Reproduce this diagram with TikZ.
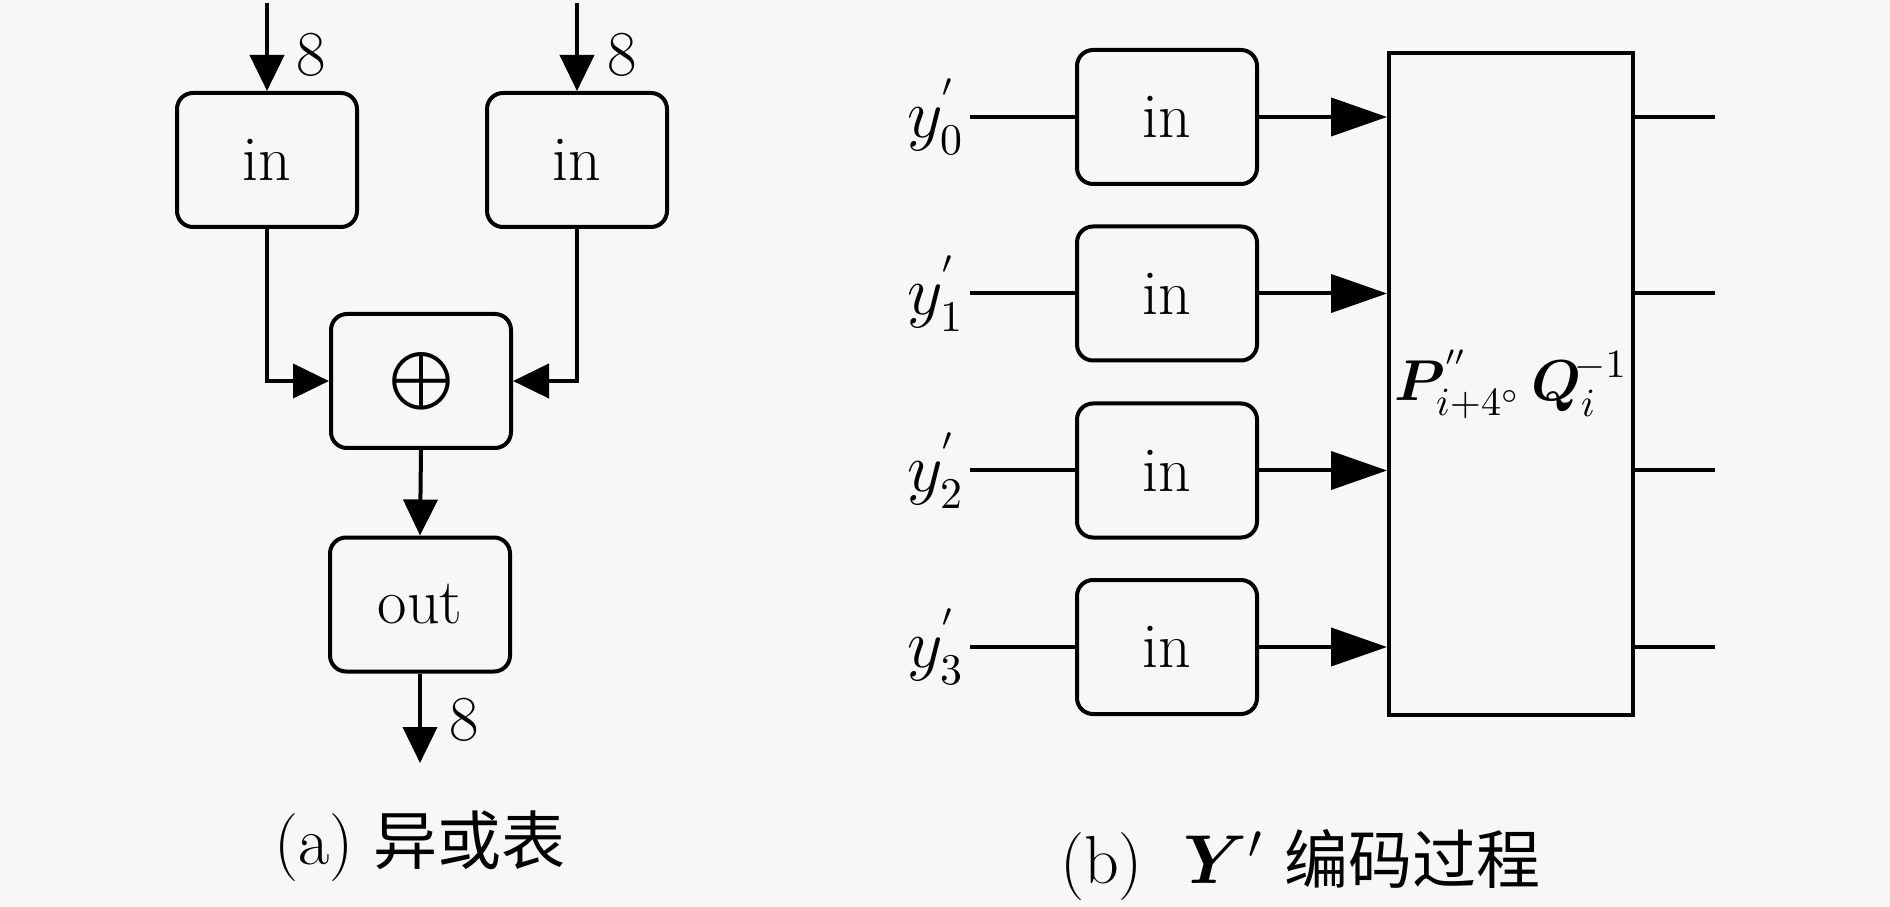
\documentclass[tikz,border=0pt]{standalone}
\usepackage{fontspec}
\usepackage{amsmath,bm}
\newfontfamily\cjk{Noto Sans CJK SC}
\usetikzlibrary{arrows.meta}
\begin{document}
\begin{tikzpicture}[x=0.25pt,y=-0.25pt,line width=1pt,
  txt/.style={font=\fontsize{16}{19}\selectfont},
  lbl/.style={txt,inner sep=1pt},
  captxt/.style={font=\fontsize{17}{20}\selectfont,inner sep=1pt},
  wbox/.style={txt,draw,rounded corners=4pt,inner sep=0pt,minimum width=45pt,minimum height=33.5pt},
  bigbox/.style={draw,inner sep=0pt,minimum width=61pt,minimum height=165.5pt,font=\fontsize{14.5}{17}\selectfont},
  arA/.style={-{Triangle[length=9pt,width=8.5pt]}},
  arB/.style={-{Triangle[length=14pt,width=9.5pt]}}]
\fill[black!3] (0,0) rectangle (1890,907);
\useasboundingbox (0,0) rectangle (1890,907);
% (a)
\node[wbox] (in1) at (267,160) {in};
\node[wbox] (in2) at (577,160) {in};
\node[wbox] (xor) at (421,381) {\fontsize{14}{16}\selectfont$\bigoplus$};
\node[wbox] (out) at (420,604.5) {out};
\coordinate (t1) at (267,3);
\coordinate (t2) at (577,3);
\coordinate (b1) at (420,763);
\draw[arA] (t1) -- (in1.north);
\draw[arA] (t2) -- (in2.north);
\draw[arA] (in1.south) |- (xor.west);
\draw[arA] (in2.south) |- (xor.east);
\draw[arA] (xor.south) -- (out.north);
\draw[arA] (out.south) -- (b1);
\node[lbl] (n1) at (311,55) {8};
\node[lbl] (n2) at (622,55) {8};
\node[lbl] (n3) at (464,720) {8};
\node[captxt] (capa) at (420,846) {(a)\ {\cjk\fontsize{16}{20}\selectfont 异或表}};
% (b)
\node[bigbox] (P) at (1511,384) {\makebox[0pt]{$\boldsymbol{P}^{''}_{i+4^{\circ}}\,\boldsymbol{Q}_{i}^{\!-1}$}};
\foreach \k/\yy in {0/117,1/293.5,2/470.5,3/647}{
  \node[lbl,anchor=east] (y\k) at (970,\yy) {$y^{'}_{\k}$};
  \node[wbox] (ib\k) at (1167,\yy) {in};
  \coordinate (o\k) at (1715,\yy);
  \draw (y\k.east) -- (ib\k.west);
  \draw[arB] (ib\k.east) -- (P.west |- ib\k.east);
  \draw (P.east |- ib\k.east) -- (o\k);
}
\node[captxt] (capb) at (1300,865) {(b)\ \ $\boldsymbol{Y}'$\ {\cjk\fontsize{16}{20}\selectfont 编码过程}};
\end{tikzpicture}
\end{document}
